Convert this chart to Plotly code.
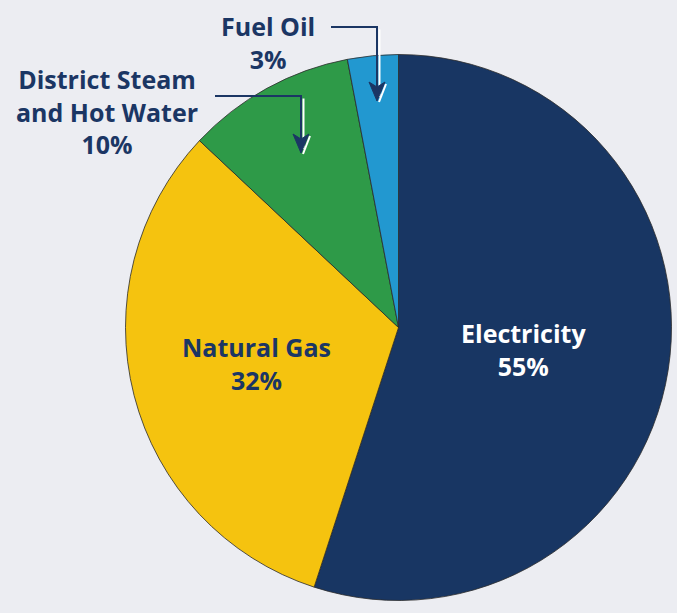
import plotly.graph_objects as go

labels = ["Electricity", "Natural Gas", "District Steam and Hot Water", "Fuel Oil"]
values = [55, 32, 10, 3]
colors = ["#183663", "#f5c30f", "#2e9a48", "#2298d0"]

W, H = 677, 613
BG = "#ecedf2"
NAVY = "#1b3664"
FONT = "Open Sans"

def px(x):
    return x / W

def py(y):
    return 1 - y / H

fig = go.Figure(go.Pie(
    labels=labels, values=values, sort=False, direction="clockwise", rotation=0,
    marker=dict(colors=colors, line=dict(color="#2b2b2b", width=0.8)),
    textinfo="none", hoverinfo="label+percent", showlegend=False,
    domain=dict(x=[px(398.5 - 273), px(398.5 + 273)], y=[py(600.5), py(54.5)]),
))

def ann(x, y, text, color):
    fig.add_annotation(x=px(x), y=py(y), xref="paper", yref="paper", text=text,
                       showarrow=False, xanchor="center", yanchor="middle",
                       font=dict(family=FONT, size=25, color=color, weight="bold"))

pct = [f"{v}%" for v in values]
ann(523, 349, f"Electricity<br>{pct[0]}", "white")
ann(256, 363, f"Natural Gas<br>{pct[1]}", NAVY)
ann(107, 111, f"District Steam<br>and Hot Water<br>{pct[2]}", NAVY)
ann(268, 43, f"Fuel Oil<br>{pct[3]}", NAVY)

def elbow(x0, y0, x1, y1):
    fig.add_shape(type="path", xref="paper", yref="paper",
                  path=f"M {px(x1+2.5)} {py(y0+2.5)} L {px(x1+2.5)} {py(y1-4)}",
                  line=dict(color="white", width=2))
    fig.add_shape(type="path", xref="paper", yref="paper",
                  path=f"M {px(x0)} {py(y0)} L {px(x1)} {py(y0)} L {px(x1)} {py(y1-14)}",
                  line=dict(color=NAVY, width=2))
    head = (f"M {px(x1-8)} {py(y1-19)} L {px(x1)} {py(y1-14)} L {px(x1+8)} {py(y1-19)} "
            f"L {px(x1)} {py(y1)} Z")
    fig.add_shape(type="path", xref="paper", yref="paper", path=head,
                  fillcolor=NAVY, line=dict(color=NAVY, width=1))
    fig.add_shape(type="path", xref="paper", yref="paper",
                  path=f"M {px(x1+9)} {py(y1-17)} L {px(x1+2)} {py(y1+1)}",
                  line=dict(color="white", width=2))

elbow(331, 27, 377, 101)
elbow(215, 96, 301, 153)

fig.update_layout(width=W, height=H, paper_bgcolor=BG, plot_bgcolor=BG,
                  margin=dict(l=0, r=0, t=0, b=0))
fig.write_html("out.html", config={"displayModeBar": False},
               post_script="document.body.style.margin='0';document.body.style.overflow='hidden';")
